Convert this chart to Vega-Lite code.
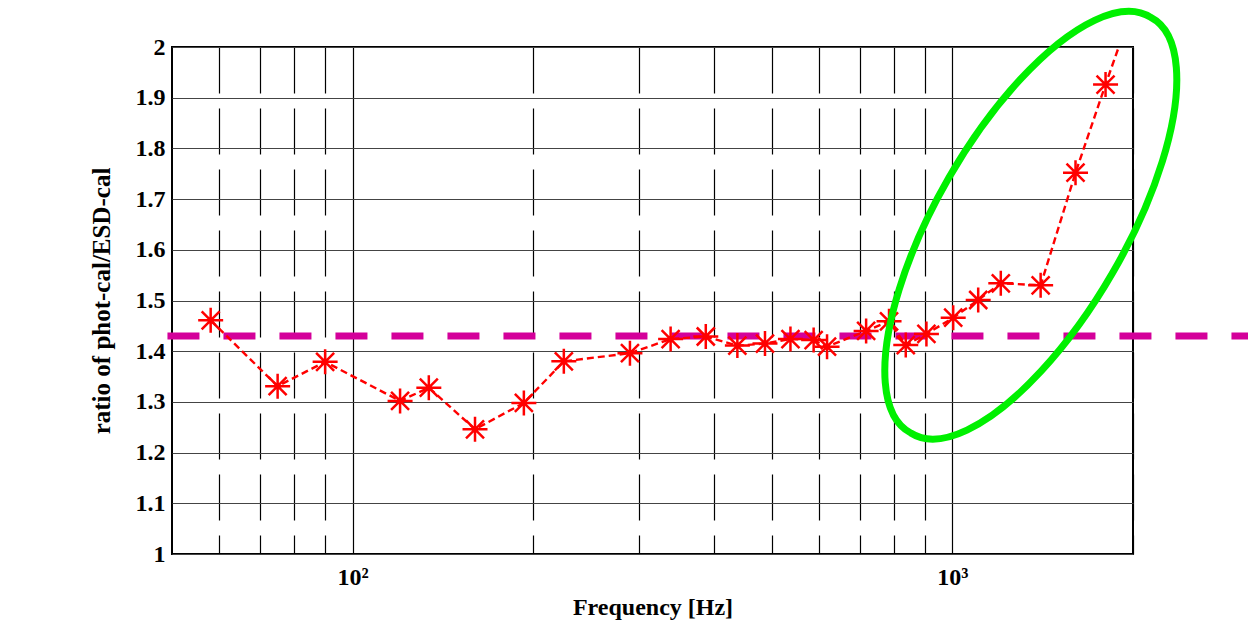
{
  "$schema": "https://vega.github.io/schema/vega-lite/v6.json",
  "width": 961,
  "height": 507,
  "autosize": {"type": "none"},
  "padding": {"left": 172, "top": 47, "right": 115, "bottom": 69},
  "background": "#ffffff",
  "config": {
    "view": {"stroke": "#000000", "strokeWidth": 2},
    "font": "Liberation Serif"
  },
  "datasets": {
    "ratio": [
      {"f": 58, "r": 1.461},
      {"f": 75, "r": 1.331},
      {"f": 90, "r": 1.379},
      {"f": 120, "r": 1.302},
      {"f": 134, "r": 1.328},
      {"f": 160, "r": 1.246},
      {"f": 193, "r": 1.298},
      {"f": 225, "r": 1.38},
      {"f": 290, "r": 1.396},
      {"f": 339, "r": 1.424},
      {"f": 388, "r": 1.429},
      {"f": 438, "r": 1.411},
      {"f": 487, "r": 1.415},
      {"f": 537, "r": 1.424},
      {"f": 587, "r": 1.422},
      {"f": 618, "r": 1.409},
      {"f": 718, "r": 1.44},
      {"f": 784, "r": 1.459},
      {"f": 836, "r": 1.412},
      {"f": 905, "r": 1.434},
      {"f": 1003, "r": 1.466},
      {"f": 1104, "r": 1.501},
      {"f": 1204, "r": 1.534},
      {"f": 1403, "r": 1.53},
      {"f": 1604, "r": 1.752},
      {"f": 1800, "r": 1.926},
      {"f": 2000, "r": 2.08}
    ],
    "ref": [{"f": 3300, "f2": 45.6, "r": 1.43}],
    "mark": [{"f": 1351, "r": 1.6485}]
  },
  "layer": [
    {
      "data": {"name": "ref"},
      "mark": {"type": "rule", "color": "#D4009A", "strokeWidth": 7, "strokeDash": [32, 24], "clip": false},
      "encoding": {
        "x": {
          "field": "f", "type": "quantitative",
          "scale": {"type": "log", "domain": [50, 2000], "nice": false},
          "axis": {
            "title": "Frequency [Hz]",
            "values": [60, 70, 80, 90, 100, 200, 300, 400, 500, 600, 700, 800, 900, 1000, 2000],
            "labelExpr": "datum.value == 100 ? '10²' : datum.value == 1000 ? '10³' : ''",
            "labelOverlap": false,
            "labelFlush": false,
            "grid": true,
            "gridColor": "#000000",
            "gridWidth": 1.2,
            "gridDash": {"condition": {"test": "datum.value == 100 || datum.value == 1000", "value": [1, 0]}, "value": [46, 15]},
            "ticks": false,
            "domain": false,
            "labelFont": "Liberation Serif",
            "labelFontWeight": "bold",
            "labelFontSize": 24,
            "labelColor": "#000000",
            "labelPadding": 11,
            "titleFont": "Liberation Serif",
            "titleFontWeight": "bold",
            "titleFontSize": 24,
            "titleColor": "#000000",
            "titlePadding": 6
          }
        },
        "x2": {"field": "f2"},
        "y": {
          "field": "r", "type": "quantitative",
          "scale": {"domain": [1, 2], "nice": false, "zero": false},
          "axis": {
            "title": "ratio of phot-cal/ESD-cal",
            "values": [1, 1.1, 1.2, 1.3, 1.4, 1.5, 1.6, 1.7, 1.8, 1.9, 2],
            "format": "~g",
            "grid": true,
            "gridColor": "#444444",
            "gridWidth": 1,
            "ticks": false,
            "domain": false,
            "labelFont": "Liberation Serif",
            "labelFontWeight": "bold",
            "labelFontSize": 24,
            "labelColor": "#000000",
            "labelPadding": 7,
            "titleFont": "Liberation Serif",
            "titleFontWeight": "bold",
            "titleFontSize": 25,
            "titleColor": "#000000",
            "titlePadding": 21
          }
        }
      }
    },
    {
      "data": {"name": "ratio"},
      "mark": {"type": "line", "color": "#FF0000", "strokeWidth": 2.4, "strokeDash": [7, 4], "clip": true},
      "encoding": {
        "x": {"field": "f", "type": "quantitative"},
        "y": {"field": "r", "type": "quantitative"}
      }
    },
    {
      "data": {"name": "ratio"},
      "mark": {
        "type": "point",
        "shape": "M-1,0L1,0M0,-1L0,1M-0.72,-0.72L0.72,0.72M-0.72,0.72L0.72,-0.72",
        "size": 625,
        "filled": false,
        "color": "#FF0000",
        "strokeWidth": 2.5,
        "opacity": 1,
        "clip": true
      },
      "encoding": {
        "x": {"field": "f", "type": "quantitative"},
        "y": {"field": "r", "type": "quantitative"}
      }
    },
    {
      "data": {"name": "mark"},
      "mark": {
        "type": "point",
        "shape": "M120,-207.8A240,93,-60,1,1,-120,207.8A240,93,-60,1,1,120,-207.8Z",
        "size": 4,
        "filled": false,
        "color": "#00F000",
        "strokeWidth": 7,
        "opacity": 1,
        "clip": false
      },
      "encoding": {
        "x": {"field": "f", "type": "quantitative"},
        "y": {"field": "r", "type": "quantitative"}
      }
    }
  ]
}
